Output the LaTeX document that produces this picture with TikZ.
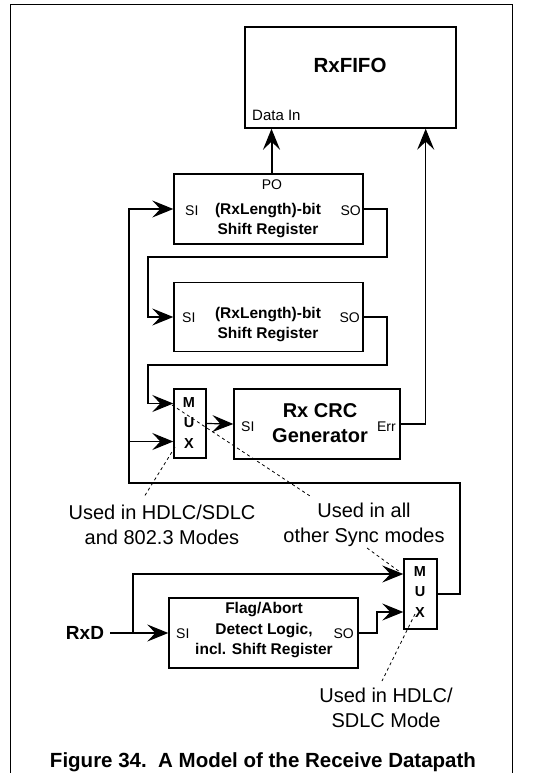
\documentclass[tikz,border=0pt]{standalone}
\usepackage{fontspec}
\setmainfont{Liberation Sans}
\usetikzlibrary{arrows.meta,calc}

\begin{document}
\begin{tikzpicture}[x=1pt,y=-1pt,
  box/.style={draw,line width=1.4pt,inner sep=0pt},
  wire/.style={line width=1.2pt},
  arr/.style={wire,-{Stealth[length=21pt,width=17pt,inset=8pt]}},
  leader/.style={dash pattern=on 3pt off 3pt,line width=0.8pt},
  port/.style={font=\fontsize{14}{16}\selectfont,inner sep=0pt},
  blbl/.style={font=\bfseries\fontsize{15.5}{20.5}\selectfont,align=center,inner sep=0pt},
  big/.style={font=\bfseries\fontsize{20.5}{25}\selectfont,align=center,inner sep=0pt},
  txt/.style={font=\fontsize{20}{25}\selectfont,align=center,inner sep=0pt},
  muxl/.style={font=\bfseries\fontsize{14.5}{20.5}\selectfont,align=center,inner sep=0pt}
]
\useasboundingbox (0,0) rectangle (541,773);

% outer frame
\draw[line width=1pt] (10,773) -- (10,5) -- (512,5) -- (512,773);

% blocks
\node[box,minimum width=211pt,minimum height=101pt] (fifo) at (350.5,77.5) {};
\node[box,minimum width=189pt,minimum height=70pt] (sr1) at (268.5,209) {};
\node[box,minimum width=189pt,minimum height=69pt] (sr2) at (268.5,317) {};
\node[box,minimum width=32pt,minimum height=69pt] (mux1) at (190,423.5) {};
\node[box,minimum width=166pt,minimum height=70pt] (crc) at (317,424) {};
\node[box,minimum width=33pt,minimum height=70pt] (mux2) at (420.5,594) {};
\node[box,minimum width=189pt,minimum height=70pt] (flag) at (263.5,633) {};

% block texts
\node[big] (fifot) at (350,65) {RxFIFO};
\node[port,font=\fontsize{15}{17}\selectfont,anchor=west] (din) at (252,115) {Data In};

\node[port] (po) at (272,185) {PO};
\node[blbl] (sr1t) at (268,220.5) {(RxLength)-bit\\Shift Register};
\node[port,anchor=west] (sr1si) at (185,211) {SI};
\node[port,anchor=east] (sr1so) at (361,211) {SO};

\node[blbl] (sr2t) at (268,324.5) {(RxLength)-bit\\Shift Register};
\node[port,anchor=west] (sr2si) at (182,318) {SI};
\node[port,anchor=east] (sr2so) at (360,318) {SO};

\node[muxl] (mux1t) at (189,423) {M\\U\\X};

\node[big,font=\bfseries\fontsize{20}{25}\selectfont] (crct) at (320,423.5) {Rx CRC\\Generator};
\node[port,anchor=west] (crcsi) at (241,427) {SI};
\node[port,anchor=east] (crcerr) at (396,427) {Err};

\node[muxl] (mux2t) at (420,592) {M\\U\\X};

\node[blbl] (flagt) at (264,630.5) {Flag/Abort\\Detect Logic,\\incl. Shift Register};
\node[port,anchor=west] (flagsi) at (176,634) {SI};
\node[port,anchor=east] (flagso) at (354,634) {SO};

\node[big,font=\bfseries\fontsize{19}{23}\selectfont] (rxd) at (85,633) {RxD};

% annotations
\node[txt] (n1) at (162,524.5) {Used in HDLC/SDLC\\and 802.3 Modes};
\node[txt] (n2) at (364,524.5) {Used in all\\other Sync modes};
\node[txt] (n3) at (386,707.5) {Used in HDLC/\\SDLC Mode};

\node[big] (cap) at (263,762) {Figure 34.\ \ A Model of the Receive Datapath};

% port points and bends
\coordinate (m1a) at ([yshift=20pt]mux1.west);
\coordinate (m1b) at ([yshift=-18pt]mux1.west);
\coordinate (m2a) at ([yshift=20pt]mux2.west);
\coordinate (m2b) at ([yshift=-18pt]mux2.west);
\coordinate (b1) at (387,257);
\coordinate (b2) at (148,317);
\coordinate (b3) at (387,365);
\coordinate (b4) at (148,403.5);
\coordinate (fbr) at (460,483);
\coordinate (fbx) at (129,209);
\coordinate (errx) at ($(fifo.south east)+(-31,0)$);
\coordinate (rb) at (133,633);
\coordinate (fsb) at (377,612);

% data paths
\draw[arr,line width=2pt] ([xshift=3pt]sr1.north) -- ([xshift=3pt]sr1.north |- fifo.south);
\draw[arr] (crc.east) -| (errx);
\draw[arr] (sr1.east) -| (b1) -| (b2) -- (sr2.west);
\draw[arr] (sr2.east) -| (b3) -| (b4) -- (m1a);
\draw[arr] (mux1.east) -- (crc.west);
\draw[arr] (mux2.east) -| (fbr) -| (fbx) -- (sr1.west);
\draw[arr] (m1b -| fbx) -- (m1b);
\draw[arr] (rxd.east) ++(6,0) -- (flag.west);
\draw[arr] (rb) |- (m2a);
\draw[arr] (flag.east) -| (fsb) -- (m2b);

% leader lines
\draw[leader] (175,447) -- (144,497);
\draw[leader] (172,405) -- (310,496);
\draw[leader] (367,548) -- (400,572);
\draw[leader] (415,614) -- (382,681);
\end{tikzpicture}
\end{document}
